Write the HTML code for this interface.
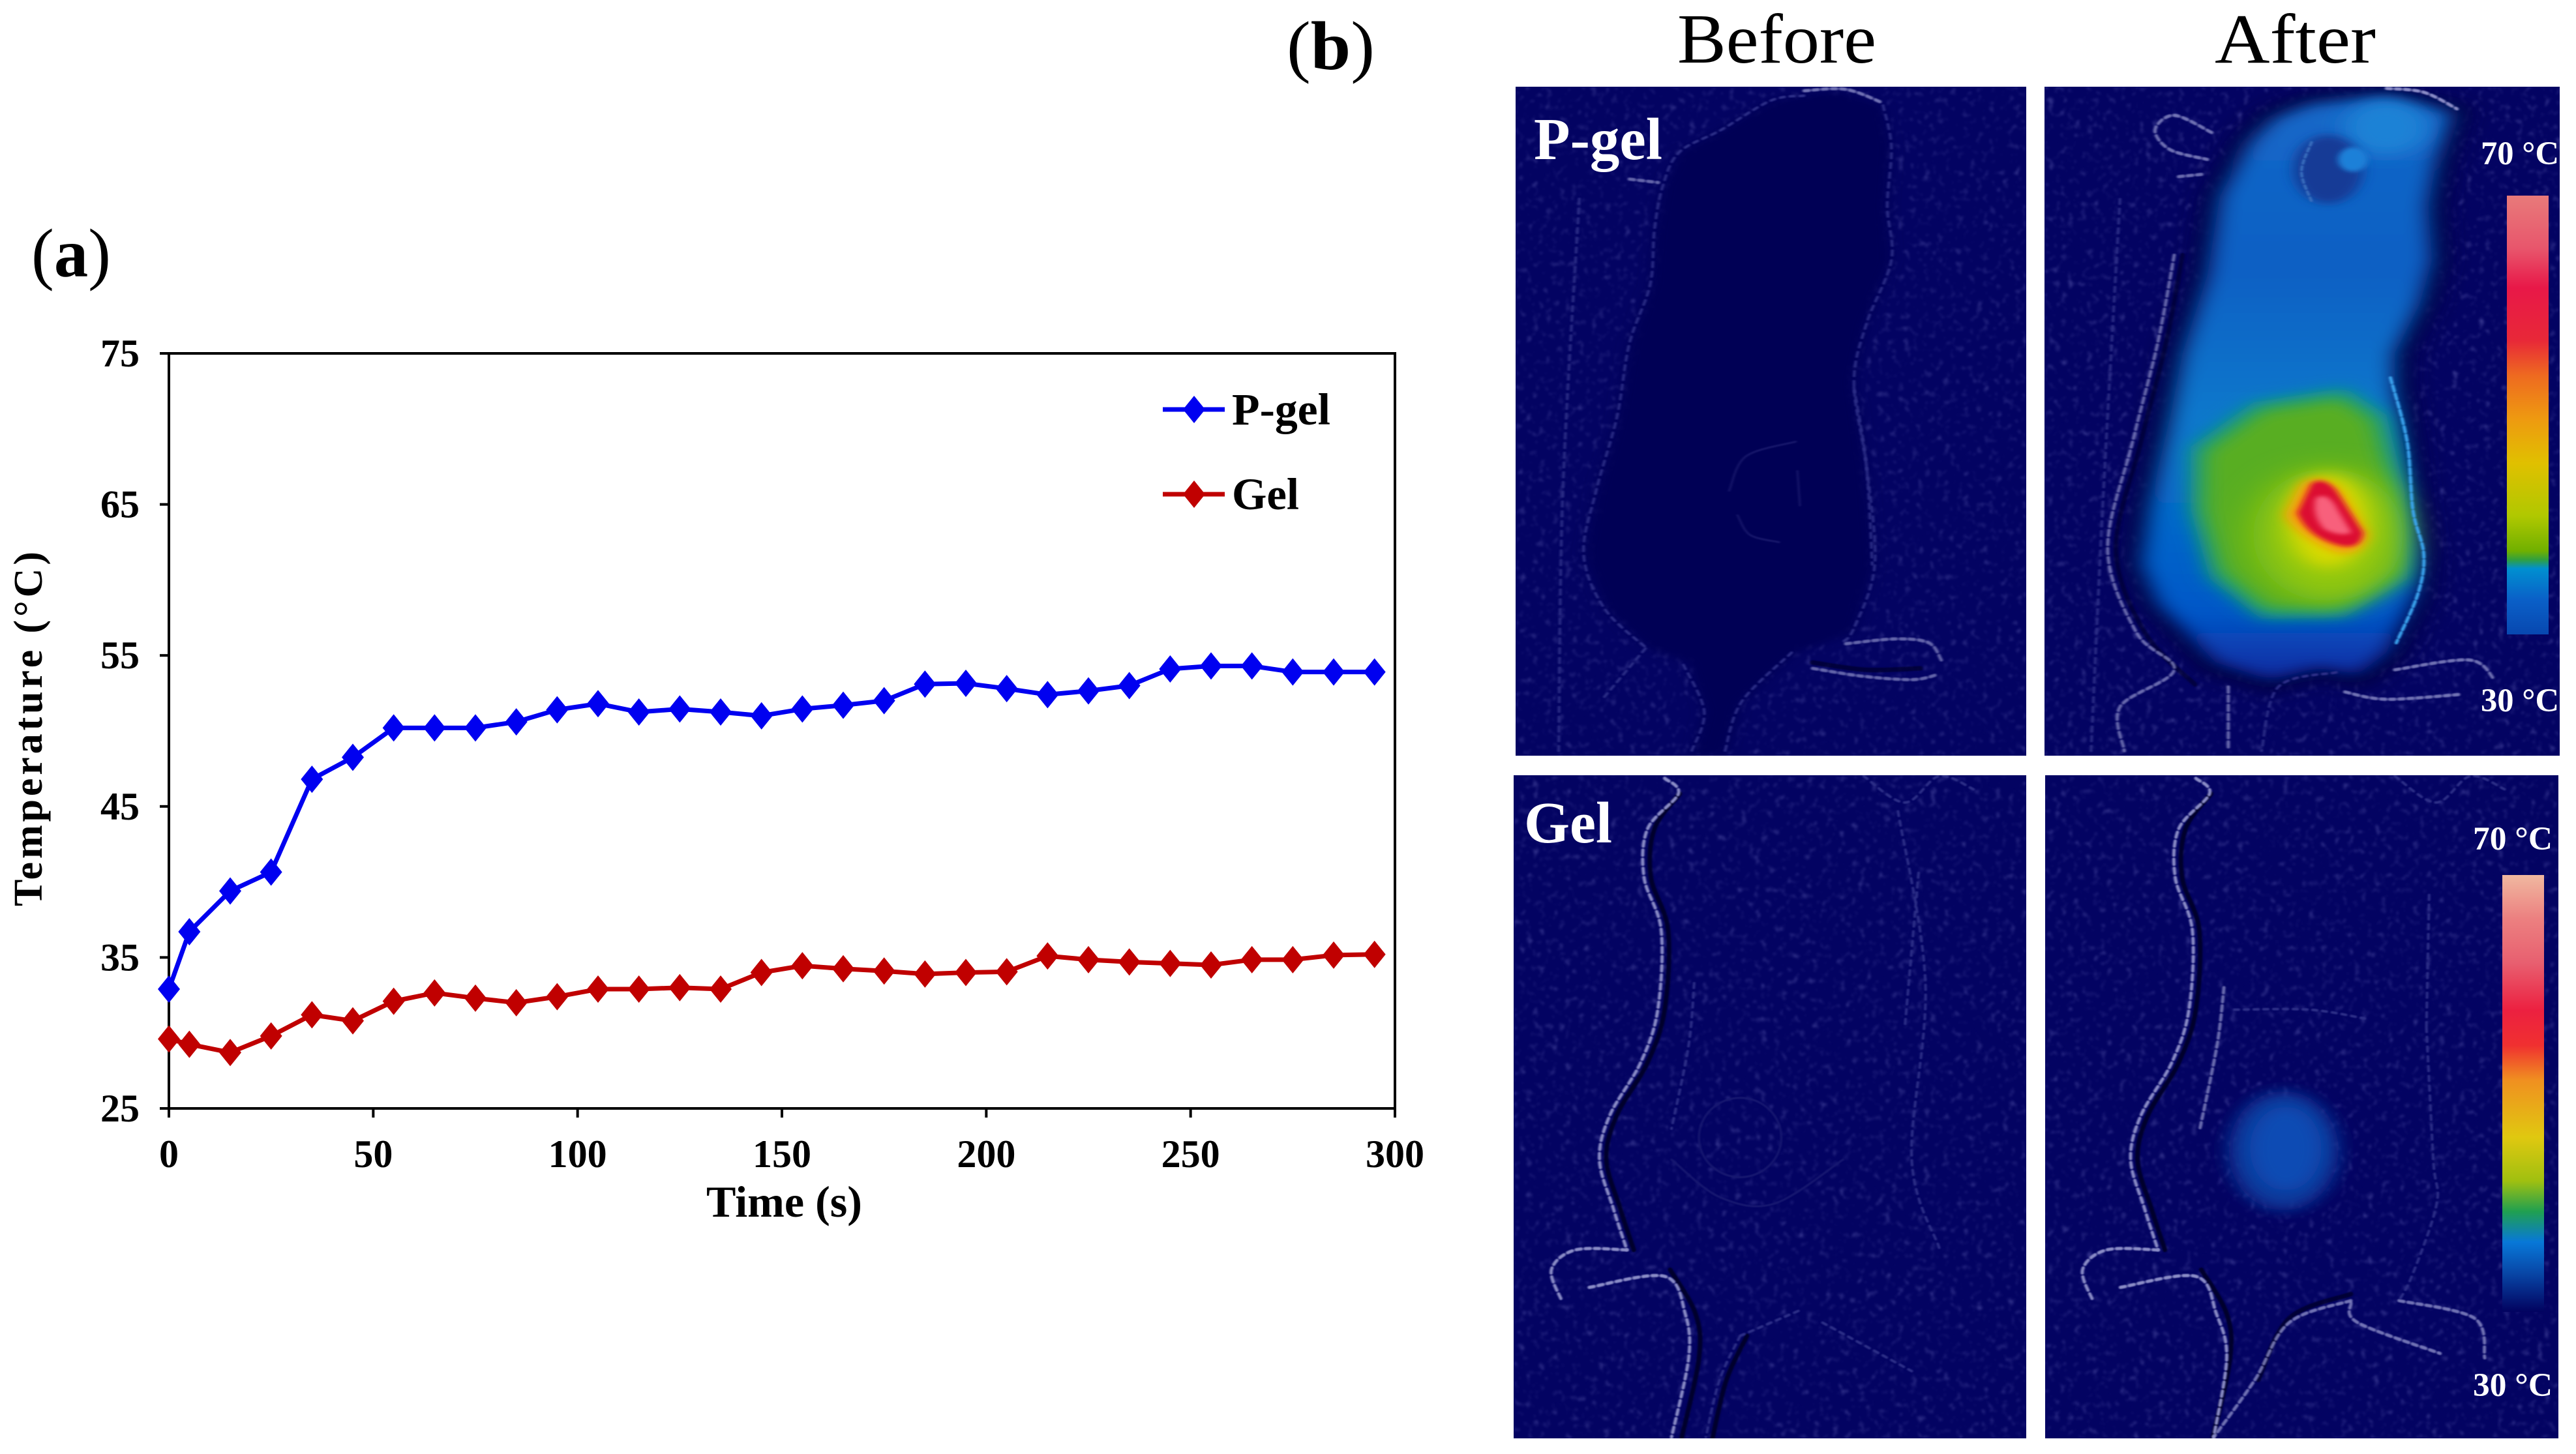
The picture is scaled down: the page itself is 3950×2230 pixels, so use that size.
<!DOCTYPE html>
<html lang="en">
<head>
<meta charset="utf-8">
<title>Temperature chart and thermal images</title>
<style>
html,body{margin:0;padding:0;background:#fff;width:3950px;height:2230px;overflow:hidden}
svg{display:block}
text{font-family:"Liberation Serif",serif}
.tick{font-weight:bold;font-size:60px;fill:#000}
.ol{fill:none;stroke-linecap:round;stroke-linejoin:round;vector-effect:non-scaling-stroke;filter:blur(1.2px)}
.br{stroke:#8a8cc6;stroke-width:5;stroke-dasharray:8 6}
.fa{stroke:#2c2e86;stroke-width:4;stroke-dasharray:7 8}
.dk{stroke:#00002c;stroke-width:7}
</style>
</head>
<body>
<svg id="root" xmlns="http://www.w3.org/2000/svg" width="3950" height="2230" viewBox="0 0 3950 2230">
<defs>
  <filter id="noise" x="0" y="0" width="100%" height="100%">
    <feTurbulence type="fractalNoise" baseFrequency="0.1" numOctaves="2" seed="4"/>
    <feColorMatrix type="matrix" values="0 0 0 0 0.2  0 0 0 0 0.2  0 0 0 0 0.6  1.6 1.6 0 0 -1.72"/>
    <feGaussianBlur stdDeviation="1.5"/>
  </filter>
  <filter id="b4" x="-30%" y="-30%" width="160%" height="160%"><feGaussianBlur stdDeviation="4"/></filter>
  <filter id="b8" x="-30%" y="-30%" width="160%" height="160%"><feGaussianBlur stdDeviation="8"/></filter>
  <filter id="b14" x="-30%" y="-30%" width="160%" height="160%"><feGaussianBlur stdDeviation="14"/></filter>
  <filter id="b24" x="-40%" y="-40%" width="180%" height="180%"><feGaussianBlur stdDeviation="24"/></filter>
  <linearGradient id="bodyGrad" x1="0" y1="0" x2="0" y2="1">
    <stop offset="0" stop-color="#1568c8"/><stop offset=".3" stop-color="#0c60c4"/>
    <stop offset=".55" stop-color="#0878cc"/><stop offset=".88" stop-color="#0558c8"/><stop offset="1" stop-color="#0a2aa0"/>
  </linearGradient>
  <linearGradient id="cbarP" x1="0" y1="0" x2="0" y2="1">
    <stop offset="0" stop-color="#e87a7a"/><stop offset=".12" stop-color="#e8566c"/><stop offset=".21" stop-color="#e81848"/>
    <stop offset=".33" stop-color="#e82838"/><stop offset=".41" stop-color="#ee6a20"/><stop offset=".51" stop-color="#ee9a10"/>
    <stop offset=".61" stop-color="#e0c000"/><stop offset=".73" stop-color="#b0c800"/><stop offset=".81" stop-color="#70b000"/>
    <stop offset=".83" stop-color="#30a040"/><stop offset=".85" stop-color="#0090d0"/><stop offset=".92" stop-color="#0a60c8"/>
    <stop offset="1" stop-color="#0848b0"/>
  </linearGradient>
  <linearGradient id="cbarG" x1="0" y1="0" x2="0" y2="1">
    <stop offset="0" stop-color="#f0b8a0"/><stop offset=".1" stop-color="#ec8080"/><stop offset=".2" stop-color="#e86070"/>
    <stop offset=".31" stop-color="#ec2040"/><stop offset=".39" stop-color="#f03030"/><stop offset=".47" stop-color="#f09020"/>
    <stop offset=".6" stop-color="#e0c810"/><stop offset=".7" stop-color="#a0c010"/><stop offset=".77" stop-color="#20a050"/>
    <stop offset=".84" stop-color="#0878d8"/><stop offset=".91" stop-color="#0848a8"/><stop offset="1" stop-color="#02025f"/>
  </linearGradient>
  <clipPath id="clipPB"><rect x="2324" y="133" width="783" height="1026"/></clipPath>
  <clipPath id="clipPA"><rect x="3135" y="133" width="790" height="1026"/></clipPath>
  <clipPath id="clipGB"><rect x="2321" y="1189" width="786" height="1017"/></clipPath>
  <clipPath id="clipGA"><rect x="3136" y="1189" width="787" height="1017"/></clipPath>
</defs>

<!-- Panel labels and column titles -->
<text x="48" y="424" font-size="106" textLength="122" lengthAdjust="spacingAndGlyphs">(<tspan font-weight="bold">a</tspan>)</text>
<text x="1973" y="106" font-size="106" textLength="135" lengthAdjust="spacingAndGlyphs">(<tspan font-weight="bold">b</tspan>)</text>
<text x="2572" y="96" font-size="108" textLength="305" lengthAdjust="spacingAndGlyphs">Before</text>
<text x="3396" y="96" font-size="108" textLength="247" lengthAdjust="spacingAndGlyphs">After</text>

<!-- Chart (a) -->
<g id="chart"></g>

<!-- P-gel before -->
<g clip-path="url(#clipPB)">
  <rect x="2324" y="133" width="783" height="1026" fill="#030362"/>
  <rect x="2324" y="133" width="783" height="1026" filter="url(#noise)" opacity=".4"/>
  <g transform="translate(1950,0) scale(1.2755,0.7526)">
    <path d="M640 195 L600 205 L540 265 L490 310 L470 380 L460 470 L455 580 L430 700 L415 850 L390 1000 L375 1130 L400 1240 L450 1320 L500 1350 L520 1450 L505 1540 L545 1540 L565 1430 L630 1330 L700 1290 L725 1150 L715 950 L700 780 L715 660 L745 530 L740 420 L745 300 L735 215 L680 185 Z" fill="#020255" filter="url(#b8)"/>
    <path class="ol fa" d="M640 195 L600 205 L540 265 L490 310 L470 380 L460 470 L455 580 L430 700 L415 850 L390 1000 L375 1130 L400 1240 L450 1320"/>
    <path class="ol fa" d="M735 215 L745 300 L740 420 L745 530 L715 660 L700 780 L715 950 L725 1150 L700 1280 L685 1310"/>
    <path class="ol br" d="M640 185 L690 182 L735 210" opacity=".8"/>
    <path class="ol fa" d="M700 790 L715 950 L722 1150"/>
    <path class="ol fa" d="M345 1530 L350 1000 L370 400 M400 1420 L450 1320 M495 1355 L520 1450 L505 1530 M625 1330 L565 1430 L545 1530"/>
    <path class="ol br" opacity=".7" d="M430 365 L465 372 M650 1362 L710 1378 L770 1385 L800 1375 M690 1312 L750 1302 L790 1310 L805 1345"/>
    <path class="ol dk" d="M650 1350 L715 1365 L780 1362" opacity=".7"/>
    <path class="ol" stroke="#16166a" stroke-width="3" d="M550 1000 L570 930 L630 900 M560 1050 L575 1090 L610 1105 M632 960 L635 1030"/>
  </g>
</g>

<!-- P-gel after -->
<g clip-path="url(#clipPA)">
  <rect x="3135" y="133" width="790" height="1026" fill="#030362"/>
  <rect x="3135" y="133" width="790" height="1026" filter="url(#noise)" opacity=".45"/>
  <g transform="translate(1950,0) scale(1.2755,0.7526)">
    <path d="M1250 205 L1340 190 L1425 225 L1405 330 L1395 420 L1400 530 L1385 620 L1355 720 L1355 790 L1365 900 L1375 1040 L1385 1130 L1380 1210 L1345 1340 L1310 1385 L1260 1370 L1200 1395 L1130 1360 L1060 1230 L1040 1150 L1050 1030 L1075 850 L1090 720 L1120 560 L1135 400 L1170 290 L1200 235 Z" fill="#00004e" stroke="#00003a" stroke-width="26" filter="url(#b14)"/>
    <path d="M1250 210 L1340 195 L1420 228 L1400 330 L1390 420 L1395 530 L1380 620 L1350 720 L1350 790 L1360 900 L1370 1040 L1380 1130 L1375 1210 L1340 1330 L1305 1375 L1260 1360 L1200 1385 L1135 1350 L1065 1230 L1045 1150 L1055 1030 L1080 850 L1095 720 L1125 560 L1140 400 L1175 290 L1205 240 Z" fill="url(#bodyGrad)" filter="url(#b14)"/>
    <ellipse cx="1340" cy="260" rx="50" ry="55" fill="#1a82d6" filter="url(#b14)"/>
    <ellipse cx="1270" cy="345" rx="42" ry="70" fill="#123a96" filter="url(#b8)"/>
    <ellipse cx="1300" cy="325" rx="18" ry="25" fill="#1c80d8" filter="url(#b4)"/>
    <path class="ol" stroke="#3c72c0" stroke-width="4" stroke-dasharray="5 5" d="M1250 290 L1238 350 L1250 410"/>
    <path d="M1105 910 L1180 820 L1290 790 L1340 845 L1362 1000 L1366 1180 L1290 1258 L1190 1262 L1128 1180 L1105 1040 Z" fill="#089a88" filter="url(#b14)"/>
    <path d="M1120 920 L1190 835 L1285 810 L1325 855 L1350 1000 L1355 1165 L1285 1240 L1195 1242 L1140 1165 L1118 1040 Z" fill="#58ae20" filter="url(#b14)"/>
    <ellipse cx="1270" cy="1090" rx="90" ry="135" fill="#93c80c" filter="url(#b24)"/>
    <ellipse cx="1270" cy="1062" rx="48" ry="95" fill="#d8da00" filter="url(#b14)"/>
    <path d="M1238 985 Q1262 960 1285 1000 L1318 1090 Q1310 1135 1280 1125 Q1235 1095 1218 1050 Z" fill="#f79a10" filter="url(#b8)"/>
    <path d="M1250 985 Q1265 970 1280 1000 L1312 1085 Q1310 1120 1285 1112 Q1245 1095 1233 1045 Z" fill="#dc0a30" filter="url(#b4)"/>
    <path d="M1255 1015 Q1270 1000 1282 1040 L1298 1085 Q1285 1095 1265 1078 Q1250 1050 1255 1015 Z" fill="#f8607c" filter="url(#b4)"/>
    <path class="ol" stroke="#3ca6f0" stroke-width="5" stroke-dasharray="8 5" d="M1345 770 L1365 900 L1372 1040 L1385 1130 L1378 1210 L1352 1310"/>
    <path class="ol dk" d="M1095 520 L1075 700 L1045 900 L1015 1120 L1050 1290 L1110 1395" opacity=".6"/>
    <path class="ol br" opacity=".75" d="M1090 360 L1120 355 M1085 520 L1065 700 L1035 900 L1005 1120 L1040 1290 L1085 1365 L1020 1440 L1025 1530 M1150 1400 L1150 1530"/>
    <path class="ol br" opacity=".8" d="M1130 270 L1085 235 L1062 265 L1080 305 L1125 325"/>
    <path class="ol br" d="M1340 180 L1385 188 L1425 222"/>
    <path class="ol br" opacity=".8" d="M1290 1410 L1340 1425 L1430 1415 M1350 1365 L1440 1345 L1470 1385"/>
    <path class="ol fa" d="M985 1530 L1000 1000 L1020 400 M1280 1370 L1210 1400 L1190 1530"/>
  </g>
  <rect x="3844" y="300" width="64" height="673" fill="url(#cbarP)"/>
</g>

<!-- Gel before -->
<g clip-path="url(#clipGB)">
  <rect x="2321" y="1189" width="786" height="1017" fill="#030362"/>
  <rect x="2321" y="1189" width="786" height="1017" filter="url(#noise)" opacity=".45"/>
  <g transform="translate(2300,1170) scale(1.0523,0.676)">
    <path class="ol dk" d="M262 70 L225 150 L220 260 L245 380 L240 560 L215 680 L170 800 L155 900 L175 1010 L195 1105 M248 1150 L285 1250 L290 1350 L265 1530 M360 1300 L330 1400 L310 1530"/>
    <path class="ol br" d="M240 35 L260 70 L215 150 L210 260 L235 380 L230 560 L205 680 L160 800 L145 900 L165 1010 L185 1105"/>
    <path class="ol br" d="M185 1105 L110 1105 L75 1150 L90 1220 M130 1190 L240 1165 L270 1250 L275 1350 L250 1530"/>
    <path class="ol fa" d="M350 1300 L320 1400 L300 1530 M350 1300 L440 1240 M470 1270 L600 1380"/>
    <path class="ol fa" d="M283 500 L275 640 L250 830 M530 30 L590 90 L640 30 L690 60 M580 110 L620 500 L600 900 L640 1100 M610 250 L590 600"/>
    <ellipse class="ol" stroke="#171870" stroke-width="3" cx="350" cy="850" rx="60" ry="90" fill="none"/>
    <path class="ol" stroke="#171870" stroke-width="3" d="M250 900 L320 985 L400 1000 L500 900"/>
  </g>
</g>

<!-- Gel after -->
<g clip-path="url(#clipGA)">
  <rect x="3136" y="1189" width="787" height="1017" fill="#030362"/>
  <rect x="3136" y="1189" width="787" height="1017" filter="url(#noise)" opacity=".45"/>
  <g transform="translate(2300,1170) scale(1.0523,0.676)">
    <ellipse cx="1142" cy="880" rx="80" ry="135" fill="#10389a" filter="url(#b14)"/>
    <ellipse cx="1145" cy="875" rx="52" ry="95" fill="#0a4cb4" filter="url(#b14)"/>
    <path class="ol dk" d="M1036 70 L999 150 L994 260 L1019 380 L1014 560 L989 680 L944 800 L929 900 L949 1010 L969 1105 M1022 1150 L1059 1250 L1064 1350 L1039 1530"/>
    <path class="ol br" d="M1014 35 L1034 70 L989 150 L984 260 L1009 380 L1004 560 L979 680 L934 800 L919 900 L939 1010 L959 1105"/>
    <path class="ol br" d="M959 1105 L884 1105 L849 1150 L864 1220 M904 1190 L1014 1165 L1044 1250 L1059 1350 L1040 1530"/>
    <path class="ol br" opacity=".75" d="M1055 510 L1045 640 L1020 830"/>
    <path class="ol dk" d="M1240 1205 L1150 1260 L1105 1400" opacity=".8"/>
    <path class="ol br" opacity=".8" d="M1240 1220 L1150 1270 L1100 1400 L1040 1530"/>
    <path class="ol br" opacity=".8" d="M1240 1225 L1250 1270 L1370 1340 M1310 1220 L1420 1260 L1435 1350"/>
    <path class="ol fa" d="M1350 600 L1360 900 L1365 1000 L1330 1160 L1310 1220 M1354 300 L1350 600 M1070 560 L1180 560 L1260 580"/>
    <path class="ol fa" d="M1304 30 L1364 90 L1414 30 L1464 60"/>
  </g>
  <rect x="3837" y="1342" width="64" height="670" fill="url(#cbarG)"/>
</g>

<!-- Panel overlay text -->
<g font-weight="bold" fill="#fff">
  <text x="2352" y="244" font-size="91" textLength="197" lengthAdjust="spacingAndGlyphs">P-gel</text>
  <text x="2337" y="1292" font-size="90" textLength="135" lengthAdjust="spacingAndGlyphs">Gel</text>
  <text x="3804" y="252" font-size="51" textLength="120" lengthAdjust="spacingAndGlyphs">70 °C</text>
  <text x="3804" y="1091" font-size="51" textLength="120" lengthAdjust="spacingAndGlyphs">30 °C</text>
  <text x="3792" y="1303" font-size="51" textLength="122" lengthAdjust="spacingAndGlyphs">70 °C</text>
  <text x="3792" y="2141" font-size="51" textLength="122" lengthAdjust="spacingAndGlyphs">30 °C</text>
</g>
</svg>

<script>
const timePoints = [0,5,15,25,35,45,55,65,75,85,95,105,115,125,135,145,155,165,175,185,195,205,215,225,235,245,255,265,275,285,295];
const pGelValues = [32.9,36.7,39.4,40.65,46.8,48.25,50.2,50.2,50.2,50.6,51.4,51.8,51.25,51.45,51.25,51.0,51.45,51.7,52.0,53.1,53.15,52.8,52.4,52.65,53.0,54.1,54.3,54.3,53.9,53.9,53.9];
const gelValues = [29.6,29.25,28.7,29.8,31.2,30.8,32.1,32.65,32.3,32.0,32.4,32.9,32.9,33.0,32.9,34.0,34.45,34.25,34.1,33.9,34.0,34.05,35.1,34.85,34.7,34.6,34.5,34.85,34.85,35.15,35.2];
const xTicks = [0,50,100,150,200,250,300];
const yTicks = [25,35,45,55,65,75];

const NS = 'http://www.w3.org/2000/svg';
const plot = {left:259, right:2139, top:542, bottom:1700};
const xDomain = [0,300];
const yDomain = [25,75];
function xScale(v){ return plot.left + (v - xDomain[0]) / (xDomain[1] - xDomain[0]) * (plot.right - plot.left); }
function yScale(v){ return plot.bottom - (v - yDomain[0]) / (yDomain[1] - yDomain[0]) * (plot.bottom - plot.top); }
const chart = document.getElementById('chart');
function mk(tag, attrs, parent){
  const el = document.createElementNS(NS, tag);
  for (const k in attrs) el.setAttribute(k, attrs[k]);
  (parent || chart).appendChild(el);
  return el;
}
function diamondPoints(cx, cy){
  const a = 17, b = 21;
  return (cx) + ',' + (cy - b) + ' ' + (cx + a) + ',' + cy + ' ' + cx + ',' + (cy + b) + ' ' + (cx - a) + ',' + cy;
}

const frame = mk('rect', {x:plot.left, y:plot.top, width:plot.right-plot.left, height:plot.bottom-plot.top, fill:'#fff', stroke:'#000', 'stroke-width':4});



xTicks.forEach(function(t){
  const x = xScale(t);
  const tick = mk('line', {x1:x, x2:x, y1:plot.bottom, y2:plot.bottom+14, stroke:'#000', 'stroke-width':4});
  
  
  const label = mk('text', {x:x, y:1790, 'text-anchor':'middle', class:'tick'});
  
  
  label.textContent = t;
});
yTicks.forEach(function(t){
  const y = yScale(t);
  const tick = mk('line', {x1:plot.left-14, x2:plot.left, y1:y, y2:y, stroke:'#000', 'stroke-width':4});
  
  
  const label = mk('text', {x:214, y:y+20, 'text-anchor':'end', class:'tick'});
  
  
  label.textContent = t;
});

function drawSeries(values, color, name){
  const g = mk('g', {});
  
  
  const pts = values.map(function(v, i){ return xScale(timePoints[i]) + ',' + yScale(v); }).join(' ');
  const line = mk('polyline', {points:pts, fill:'none', stroke:color, 'stroke-width':7, 'stroke-linejoin':'round'}, g);
  
  
  values.forEach(function(v, i){
    const d = mk('polygon', {points:diamondPoints(xScale(timePoints[i]), yScale(v)), fill:color}, g);
    
    
  });
}
drawSeries(gelValues, '#c00000', 'gel');
drawSeries(pGelValues, '#0000f0', 'p-gel');

function legendEntry(label, color, y, name, textW){
  const g = mk('g', {});
  
  
  mk('line', {x1:1783, x2:1878, y1:y, y2:y, stroke:color, 'stroke-width':7}, g);
  mk('polygon', {points:diamondPoints(1831, y), fill:color}, g);
  const t = mk('text', {x:1889, y:y+23, 'font-size':69, 'font-weight':'bold', textLength:textW, lengthAdjust:'spacingAndGlyphs'}, g);
  t.textContent = label;
}
legendEntry('P-gel', '#0000f0', 628, 'legend-entry-p-gel', 151);
legendEntry('Gel', '#c00000', 758, 'legend-entry-gel', 103);

const xTitle = mk('text', {x:1083, y:1866, 'font-size':68, 'font-weight':'bold', textLength:239, lengthAdjust:'spacingAndGlyphs'});


xTitle.textContent = 'Time (s)';

const yTitle = mk('text', {transform:'translate(64,1390) rotate(-90)', 'font-size':62, 'font-weight':'bold', textLength:544, lengthAdjust:'spacing', 'xml:space':'preserve'});


yTitle.textContent = 'Temperature  (°C)';

/* Round the hand-traced mouse outlines into smooth curves */
document.querySelectorAll('path.ol').forEach(function(path){
  const subs = path.getAttribute('d').split('M').filter(function(s){ return s.trim(); });
  const out = subs.map(function(s){
    const p = s.trim().split(/\s*L\s*/).map(function(q){ return q.trim().split(/\s+/).map(Number); });
    let d = 'M' + p[0][0] + ' ' + p[0][1];
    for (let i = 0; i < p.length - 1; i++) {
      const a = p[Math.max(i - 1, 0)], b = p[i], c = p[i + 1], e = p[Math.min(i + 2, p.length - 1)];
      d += ' C' + (b[0] + (c[0] - a[0]) / 6) + ' ' + (b[1] + (c[1] - a[1]) / 6) + ' ' +
           (c[0] - (e[0] - b[0]) / 6) + ' ' + (c[1] - (e[1] - b[1]) / 6) + ' ' + c[0] + ' ' + c[1];
    }
    return d;
  });
  path.setAttribute('d', out.join(' '));
});
</script>
</body>
</html>
